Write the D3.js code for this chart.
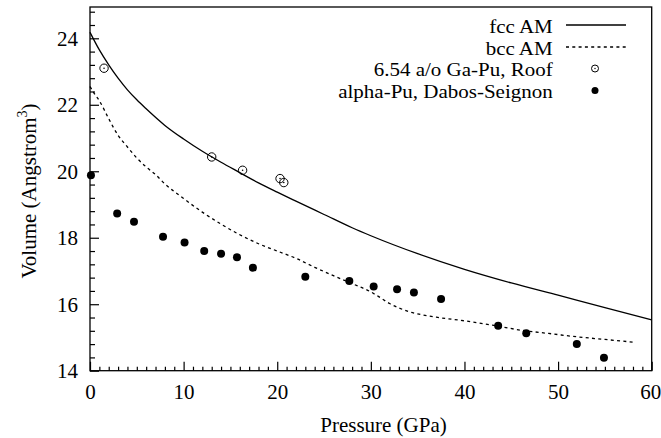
<!DOCTYPE html>
<html>
<head>
<meta charset="utf-8">
<script src="https://d3js.org/d3.v7.min.js"></script>
</head>
<body style="margin:0;background:#fff">
<script>
// fcc AM curve
var fccP = [0, 1, 2, 3, 4, 5, 6, 8, 10, 12, 14, 16, 18, 20, 22, 25, 28, 30, 35, 40, 45, 50, 55, 60];
var fccV = [24.18, 23.65, 23.2, 22.8, 22.45, 22.15, 21.88, 21.38, 20.97, 20.6, 20.27, 19.96, 19.65, 19.37, 19.1, 18.7, 18.3, 18.06, 17.52, 17.05, 16.64, 16.27, 15.9, 15.53];

// bcc AM curve
var bccP = [0, 0.5, 1, 2, 3, 4, 5, 6, 7, 8, 10, 12, 14, 16, 18, 20, 22, 24, 26, 28, 30, 31, 32, 33, 34, 35, 37, 40, 43, 46, 49, 52, 55, 58];
var bccV = [22.55, 22.32, 22.12, 21.58, 21.08, 20.73, 20.4, 20.13, 19.9, 19.62, 19.18, 18.77, 18.41, 18.09, 17.82, 17.6, 17.38, 17.11, 16.86, 16.62, 16.37, 16.2, 16.02, 15.89, 15.78, 15.71, 15.61, 15.5, 15.37, 15.22, 15.12, 15.02, 14.94, 14.86];

// 6.54 a/o Ga-Pu, Roof
var roofP = [1.5, 13.0, 16.3, 20.3, 20.7];
var roofV = [23.1, 20.43, 20.03, 19.78, 19.66];

// alpha-Pu, Dabos-Seignon
var dabosP = [0.1, 2.9, 4.7, 7.8, 10.1, 12.2, 14.0, 15.7, 17.4, 23.0, 27.7, 30.3, 32.8, 34.6, 37.5, 43.6, 46.6, 52.0, 54.9];
var dabosV = [19.88, 18.73, 18.48, 18.03, 17.86, 17.6, 17.52, 17.41, 17.1, 16.83, 16.7, 16.53, 16.45, 16.35, 16.16, 15.35, 15.13, 14.8, 14.39];

var xTicks = [0, 10, 20, 30, 40, 50, 60];
var yTicks = [14, 16, 18, 20, 22, 24];
var legendLabels = ["fcc AM", "bcc AM", "6.54 a/o Ga-Pu, Roof", "alpha-Pu, Dabos-Seignon"];

var serif = '"Liberation Serif"';

function createChart() {
  var width = 661, height = 438;
  var left = 90, right = 651.7, top = 7, bottom = 370.7;

  var x = d3.scaleLinear().domain([0, 60]).range([left, right]);
  var y = d3.scaleLinear().domain([14, 24]).range([bottom, 38.3]);

  var svg = d3.select("body").append("svg")
      .attr("width", width)
      .attr("height", height);

  // minor ticks (inward)
  var xMinor = d3.range(0, 61, 1).filter(d => d % 10 != 0);
  var yMinor = d3.range(0, 28).map(i => 14 + i * 0.4).filter(d => d < 24.9 && Math.abs(d / 2 - Math.round(d / 2)) > 0.01);

  svg.append("g")
      .attr("transform", `translate(0,${bottom})`)
      .call(d3.axisTop(x).tickValues(xMinor).tickSize(4).tickFormat(""))
      .call(g => g.select(".domain").remove())
      .call(g => g.selectAll(".tick line").attr("stroke-width", 1.2));

  svg.append("g")
      .attr("transform", `translate(${left},0)`)
      .call(d3.axisRight(y).tickValues(yMinor).tickSize(5).tickFormat(""))
      .call(g => g.select(".domain").remove())
      .call(g => g.selectAll(".tick line").attr("stroke-width", 1.2));

  // major ticks with labels
  var xAxis = svg.append("g")
      .attr("transform", `translate(0,${bottom})`)
      .call(d3.axisBottom(x).tickValues(xTicks).tickSize(0))
      .call(g => g.select(".domain").remove())
      .attr("font-family", null).attr("font-size", null);
  xAxis.selectAll(".tick").append("line")
      .attr("y1", 0).attr("y2", -9)
      .attr("stroke", "#000").attr("stroke-width", 1.2);
  xAxis.selectAll("text")
      .style("font-family", serif)
      .style("font-size", "21px")
      .attr("dy", null)
      .attr("dx", d => d == 60 ? -1.5 : 0)
      .attr("y", 28.5);

  var yAxis = svg.append("g")
      .attr("transform", `translate(${left},0)`)
      .call(d3.axisLeft(y).tickValues(yTicks).tickSize(0).tickPadding(12))
      .call(g => g.select(".domain").remove())
      .attr("font-family", null).attr("font-size", null);
  yAxis.selectAll(".tick").append("line")
      .attr("x1", 0).attr("x2", 9)
      .attr("stroke", "#000").attr("stroke-width", 1.2);
  yAxis.selectAll("text")
      .style("font-family", serif)
      .style("font-size", "21px")
      .attr("dy", "0.34em");

  // frame
  svg.append("rect")
      .attr("x", left).attr("y", top)
      .attr("width", right - left).attr("height", bottom - top)
      .attr("fill", "none").attr("stroke", "#000").attr("stroke-width", 1.3);

  // curves
  var line = d3.line().x(d => x(d[0])).y(d => y(d[1])).curve(d3.curveMonotoneX);

  svg.append("path")
      .datum(d3.zip(fccP, fccV))
      .attr("d", line)
      .attr("fill", "none").attr("stroke", "#000").attr("stroke-width", 1.3);

  svg.append("path")
      .datum(d3.zip(bccP, bccV))
      .attr("d", line)
      .attr("fill", "none").attr("stroke", "#000").attr("stroke-width", 1.3)
      .attr("stroke-dasharray", "3,3.3");

  // points
  var roof = svg.append("g").selectAll("g")
      .data(d3.zip(roofP, roofV))
      .join("g")
      .attr("transform", d => `translate(${x(d[0])},${y(d[1])})`);
  roof.append("circle").attr("r", 4.2).attr("fill", "none").attr("stroke", "#000").attr("stroke-width", 1);
  roof.append("circle").attr("r", 0.8).attr("fill", "#000");

  svg.append("g").selectAll("circle")
      .data(d3.zip(dabosP, dabosV))
      .join("circle")
      .attr("cx", d => x(d[0]))
      .attr("cy", d => y(d[1]))
      .attr("r", 4)
      .attr("fill", "#000");

  // legend (text a bit squeezed vertically, like the original)
  var legend = svg.append("g");
  var rowY = [25, 47, 68.5, 90.5];
  legend.selectAll("text")
      .data(legendLabels)
      .join("text")
      .attr("transform", (d, i) => `translate(552.7,${rowY[i] + 7.5}) scale(1,0.88)`)
      .attr("text-anchor", "end")
      .style("font-family", serif)
      .style("font-size", "21px")
      .text(d => d);

  legend.append("line")
      .attr("x1", 566).attr("x2", 626).attr("y1", rowY[0]).attr("y2", rowY[0])
      .attr("stroke", "#000").attr("stroke-width", 1.3);
  legend.append("line")
      .attr("x1", 566).attr("x2", 626).attr("y1", rowY[1]).attr("y2", rowY[1])
      .attr("stroke", "#000").attr("stroke-width", 1.3).attr("stroke-dasharray", "3,3.3");
  legend.append("circle").attr("cx", 595).attr("cy", rowY[2]).attr("r", 3.5)
      .attr("fill", "none").attr("stroke", "#000").attr("stroke-width", 1);
  legend.append("circle").attr("cx", 595).attr("cy", rowY[2]).attr("r", 0.7).attr("fill", "#000");
  legend.append("circle").attr("cx", 595).attr("cy", rowY[3]).attr("r", 3.5).attr("fill", "#000");

  // axis titles
  svg.append("text")
      .attr("x", 383.5).attr("y", 431.5)
      .attr("text-anchor", "middle")
      .style("font-family", serif)
      .style("font-size", "21px")
      .text("Pressure (GPa)");

  var yl = svg.append("text")
      .attr("transform", "translate(36,191) rotate(-90)")
      .attr("text-anchor", "middle")
      .style("font-family", serif)
      .style("font-size", "21px");
  yl.append("tspan").text("Volume (Angstrom");
  yl.append("tspan").style("font-size", "14px").attr("dy", -9).text("3");
  yl.append("tspan").attr("dy", 9).text(")");
}

createChart();
</script>
</body>
</html>
